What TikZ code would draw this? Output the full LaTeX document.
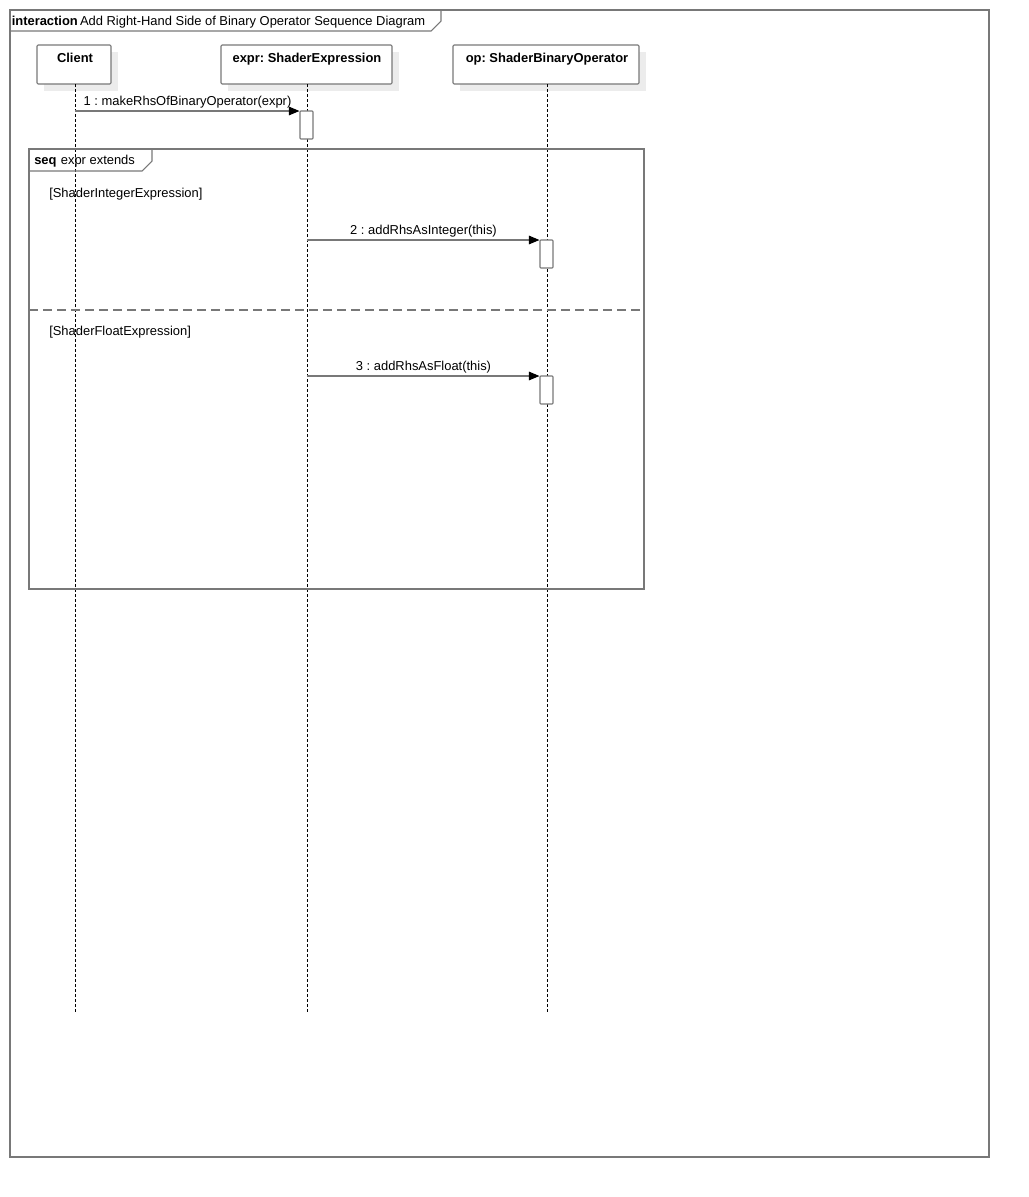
\documentclass[tikz,border=0pt]{standalone}
\usepackage{fontspec}
\setmainfont{Liberation Sans}
\usetikzlibrary{arrows.meta}
\definecolor{frameline}{RGB}{120,120,120}
\definecolor{shadowfill}{RGB}{236,236,236}
\frenchspacing
\begin{document}
\begin{tikzpicture}[x=0.75pt,y=-0.75pt,
  every node/.style={font=\fontsize{9.7}{11}\selectfont, inner sep=0pt},
  frame/.style={draw=frameline, line width=0.8pt},
  headbox/.style={draw=frameline, line width=0.8pt, fill=white, rounded corners=0.8pt},
  shadowbox/.style={fill=shadowfill, draw=none},
  lifeline/.style={draw=black, line width=0.6pt, dash pattern=on 2.25pt off 1.5pt},
  msg/.style={draw=frameline, line width=0.8pt, -{Triangle[length=8pt,width=6.5pt,fill=black,color=black]}},
  activation/.style={draw=frameline, line width=0.8pt, fill=white, rounded corners=0.6pt},
  separator/.style={draw=frameline, line width=1.1pt, dash pattern=on 7pt off 3.5pt},
]
\useasboundingbox (0,0) rectangle (1029,1197);

% outer interaction frame
\draw[frame] (10,10) rectangle (989,1157);
\draw[frame] (10,31) -- (431,31) -- (441,21) -- (441,10);
\node[anchor=base west] (title) at (11.5,25.5) {\textbf{interaction}\,Add Right-Hand Side of Binary Operator Sequence Diagram};

% lifeline heads with drop shadows
\fill[shadowbox] (44,52) rectangle (118,91);
\fill[shadowbox] (228,52) rectangle (399,91);
\fill[shadowbox] (460,52) rectangle (646,91);
\node[headbox, minimum width=74*0.75pt, minimum height=39*0.75pt] (client) at (74,64.5) {};
\node[headbox, minimum width=171*0.75pt, minimum height=39*0.75pt] (expr) at (306.5,64.5) {};
\node[headbox, minimum width=186*0.75pt, minimum height=39*0.75pt] (op) at (546,64.5) {};
\node[anchor=base] (clientlbl) at (75,62.5) {\bfseries Client};
\node[anchor=base] (exprlbl) at (307,62.5) {\bfseries expr: ShaderExpression};
\node[anchor=base] (oplbl) at (547,62.5) {\bfseries op: ShaderBinaryOperator};

% lifelines
\coordinate (clientend) at (75,1012);
\coordinate (exprend) at (307,1012);
\coordinate (opend) at (547,1012);
\draw[lifeline] (75,84) -- (clientend);
\draw[lifeline] (307,84) -- (exprend);
\draw[lifeline] (547,84) -- (opend);

% seq combined fragment
\draw[frame] (29,149) rectangle (644,589);
\draw[frame] (29,171) -- (142,171) -- (152,161) -- (152,149);
\node[anchor=base west] (seqlbl) at (34,164.5) {\textbf{seq}\,\,expr extends};
\draw[separator] (29,310) -- (644,310);
\node[anchor=base west] (guard1) at (49,197.5) {[ShaderIntegerExpression]};
\node[anchor=base west] (guard2) at (49,335.5) {[ShaderFloatExpression]};

% activations
\node[activation, minimum width=13*0.75pt, minimum height=28*0.75pt] (act1) at (306.5,125) {};
\node[activation, minimum width=13*0.75pt, minimum height=28*0.75pt] (act2) at (546.5,254) {};
\node[activation, minimum width=13*0.75pt, minimum height=28*0.75pt] (act3) at (546.5,390) {};

% messages
\coordinate (m1src) at (75,111);
\coordinate (m2src) at (307,240);
\coordinate (m3src) at (307,376);
\draw[msg] (m1src) -- (m1src -| act1.west);
\draw[msg] (m2src) -- (m2src -| act2.west);
\draw[msg] (m3src) -- (m3src -| act3.west);
\node[anchor=base] (m1lbl) at (187.5,105.5) {1 : makeRhsOfBinaryOperator(expr)};
\node[anchor=base] (m2lbl) at (423.5,234.5) {2 : addRhsAsInteger(this)};
\node[anchor=base] (m3lbl) at (423.5,370.5) {3 : addRhsAsFloat(this)};
\end{tikzpicture}
\end{document}
